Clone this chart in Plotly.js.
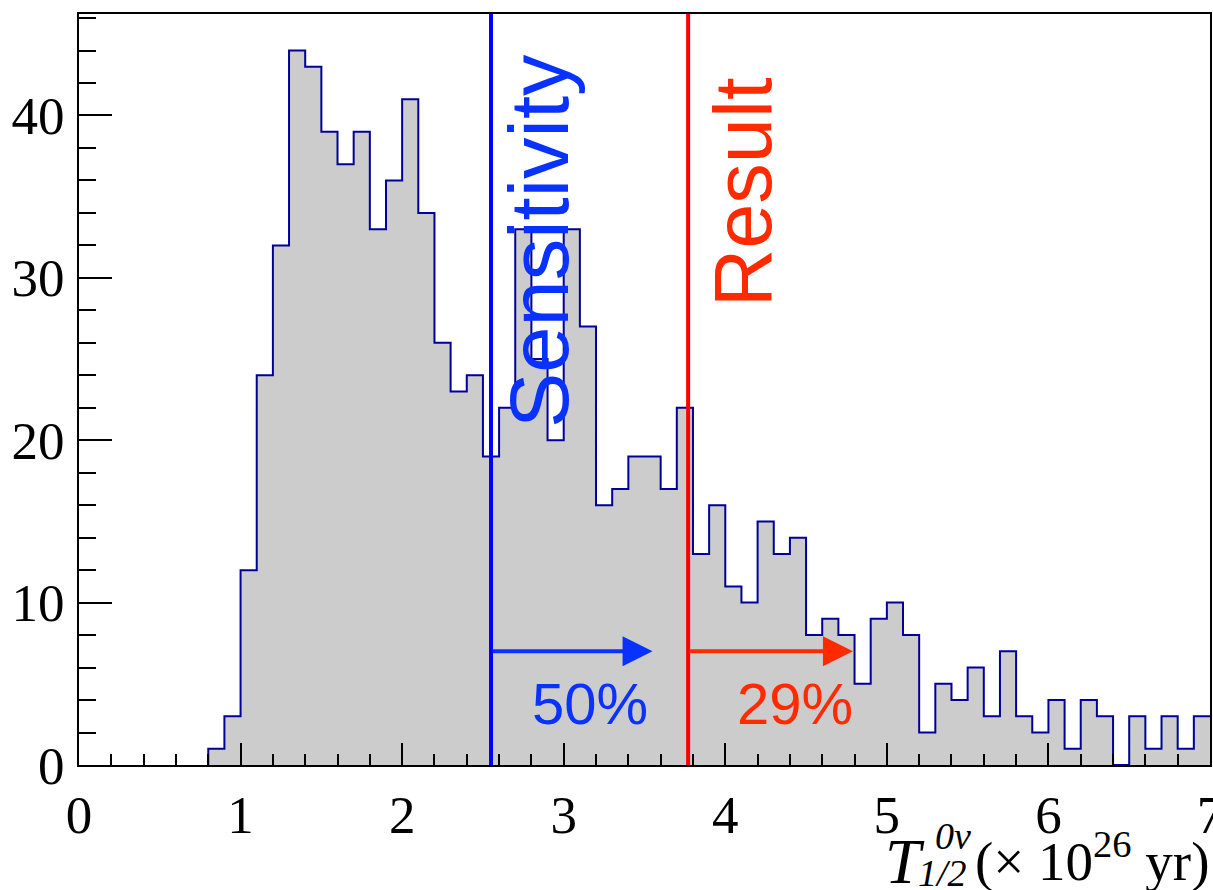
<!DOCTYPE html>
<html>
<head>
<meta charset="utf-8">
<script src="https://cdn.plot.ly/plotly-3.0.1.min.js"></script>
<style>html,body{margin:0;padding:0;background:#fff;}#chart{width:1213px;height:890px;}</style>
</head>
<body>
<div id="chart"></div>
<script>
// Histogram: bins of width 0.1 starting at 0.8 (units of 10^26 yr)
const binStart = 0.8;
const binWidth = 0.1;
const counts = [
  1, 3, 12, 24, 32, 44, 43, 39, 37, 39,   // 0.8 - 1.8
  33, 36, 41, 34, 26, 23, 24, 19, 22, 33, // 1.8 - 2.8
  25, 20, 33, 27, 16, 17, 19, 19, 17, 22, // 2.8 - 3.8
  13, 16, 11, 10, 15, 13, 14, 8, 9, 8,    // 3.8 - 4.8
  5, 9, 10, 8, 2, 5, 4, 6, 3, 7,          // 4.8 - 5.8
  3, 2, 4, 1, 4, 3, 0, 3, 1, 3,           // 5.8 - 6.8
  1, 3                                    // 6.8 - 7.0
];
const sensitivityX = 2.55;
const resultX = 3.77;
const arrowY = 7;
const sensitivityArrowEnd = 3.55;
const resultArrowEnd = 4.79;
const sensitivityFrac = "50%";
const resultFrac = "29%";
const yMax = 46.25;
const xRange = [0, 7];
const xTicks = [0, 1, 2, 3, 4, 5, 6, 7];
const yTicks = [0, 10, 20, 30, 40];

// step outline points
const hx = [binStart], hy = [0];
counts.forEach((c, i) => { hx.push(binStart + i * binWidth); hy.push(c); });
hx.push(binStart + counts.length * binWidth); hy.push(counts[counts.length - 1]);

const blueLine = '#0000ff', blueText = '#0a32ff';
const redLine = '#ff0000', redText = '#ff2a00';

const traces = [
  { x: hx, y: hy, type: 'scatter', mode: 'lines', line: { shape: 'hv', color: '#000099', width: 2 },
    fill: 'tozeroy', fillcolor: '#cccccc', hoverinfo: 'skip', showlegend: false },
  { x: [sensitivityX, sensitivityX], y: [0, yMax], type: 'scatter', mode: 'lines',
    line: { color: blueLine, width: 4 }, showlegend: false, hoverinfo: 'skip' },
  { x: [resultX, resultX], y: [0, yMax], type: 'scatter', mode: 'lines',
    line: { color: redLine, width: 4 }, showlegend: false, hoverinfo: 'skip' }
];

const sans = 'Liberation Sans, Arial, sans-serif';
const serif = 'Liberation Serif, Times New Roman, serif';
const W = 1131, H = 751; // plot area size
function px(p) { return (p - 79) / W; }
function py(p) { return (765 - p) / H; }

const annotations = [
  { x: sensitivityArrowEnd, y: arrowY, ax: sensitivityX, ay: arrowY, xref: 'x', yref: 'y', axref: 'x', ayref: 'y',
    showarrow: true, arrowhead: 2, arrowsize: 1.5, arrowwidth: 4, arrowcolor: blueText, text: '' },
  { x: resultArrowEnd, y: arrowY, ax: resultX, ay: arrowY, xref: 'x', yref: 'y', axref: 'x', ayref: 'y',
    showarrow: true, arrowhead: 2, arrowsize: 1.5, arrowwidth: 4, arrowcolor: redText, text: '' },
  { x: 2.85, y: 32.3, xref: 'x', yref: 'y', text: 'Sensitivity', textangle: -90, showarrow: false,
    font: { family: sans, size: 83, color: blueText } },
  { x: 4.106, y: 35.3, xref: 'x', yref: 'y', text: 'Result', textangle: -90, showarrow: false,
    font: { family: sans, size: 81, color: redText } },
  { x: 3.16, y: 3.8, xref: 'x', yref: 'y', text: sensitivityFrac, showarrow: false,
    font: { family: sans, size: 58, color: blueText } },
  { x: 4.43, y: 3.8, xref: 'x', yref: 'y', text: resultFrac, showarrow: false,
    font: { family: sans, size: 58, color: redText } },
  // axis title pieces
  { x: px(1211), y: py(858), xref: 'paper', yref: 'paper', xanchor: 'right', yanchor: 'middle',
    text: '(× 10<sup>26</sup> yr)', showarrow: false, font: { family: serif, size: 55, color: '#000' } },
  { x: px(905), y: py(861), xref: 'paper', yref: 'paper', xanchor: 'center', yanchor: 'middle',
    text: '<i>T</i>', showarrow: false, font: { family: serif, size: 64, color: '#000' } },
  { x: px(953), y: py(836), xref: 'paper', yref: 'paper', xanchor: 'center', yanchor: 'middle',
    text: '<i>0ν</i>', showarrow: false, font: { family: serif, size: 38, color: '#000' } },
  { x: px(943), y: py(873), xref: 'paper', yref: 'paper', xanchor: 'center', yanchor: 'middle',
    text: '<i>1/2</i>', showarrow: false, font: { family: serif, size: 38, color: '#000' } }
];

const layout = {
  width: 1213, height: 890,
  margin: { l: 79, r: 3, t: 14, b: 125 },
  paper_bgcolor: '#fff', plot_bgcolor: '#fff',
  showlegend: false,
  xaxis: {
    range: xRange, tickvals: xTicks, ticktext: xTicks.map(String),
    ticks: 'inside', ticklen: 22, tickwidth: 2, tickcolor: '#000',
    minor: { dtick: 0.2, tick0: 0, ticks: 'inside', ticklen: 11, tickwidth: 2, tickcolor: '#000', showgrid: false },
    showline: true, linecolor: '#000', linewidth: 2, mirror: true,
    showgrid: false, zeroline: false, ticklabeloverflow: 'allow',
    tickfont: { family: serif, size: 53, color: '#000' }, ticklabelstandoff: 2
  },
  yaxis: {
    range: [0, yMax], tickvals: yTicks, ticktext: yTicks.map(String),
    ticks: 'inside', ticklen: 33, tickwidth: 2, tickcolor: '#000',
    minor: { dtick: 2, tick0: 0, ticks: 'inside', ticklen: 17, tickwidth: 2, tickcolor: '#000', showgrid: false },
    showline: true, linecolor: '#000', linewidth: 2, mirror: true,
    showgrid: false, zeroline: false,
    tickfont: { family: serif, size: 53, color: '#000' }, ticklabelstandoff: 2
  },
  annotations: annotations
};

Plotly.newPlot('chart', traces, layout, { displayModeBar: false, staticPlot: true });
</script>
</body>
</html>
